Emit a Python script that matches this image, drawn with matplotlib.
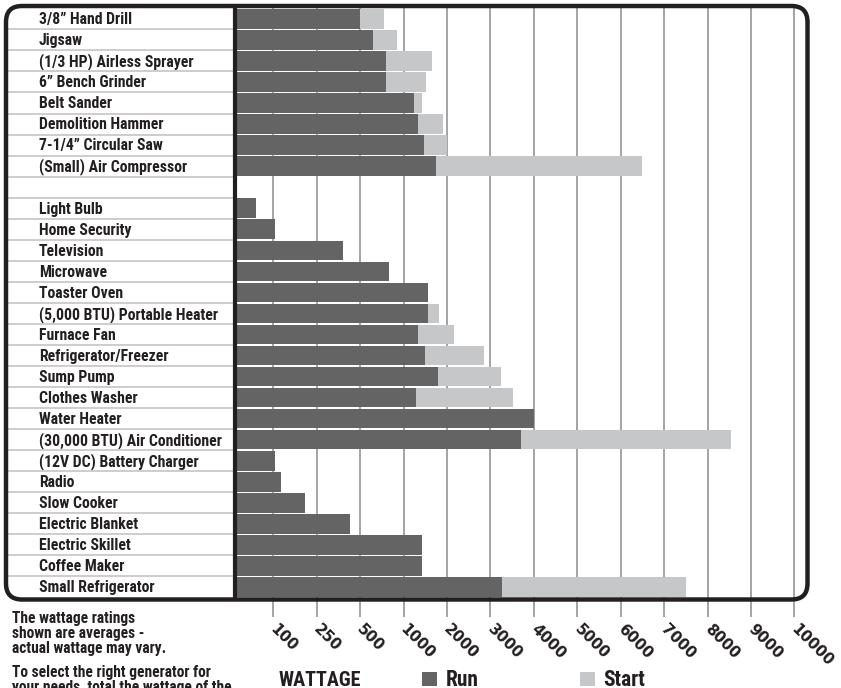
import numpy as np
import matplotlib
matplotlib.use("Agg")
import matplotlib.pyplot as plt
from matplotlib.patches import FancyBboxPatch, Rectangle
from matplotlib.lines import Line2D
from matplotlib.transforms import blended_transform_factory, offset_copy

# ---------------- data ----------------
categories = [
    "3/8\u201d Hand Drill", "Jigsaw", "(1/3 HP) Airless Sprayer", "6\u201d Bench Grinder",
    "Belt Sander", "Demolition Hammer", "7-1/4\u201d Circular Saw", "(Small) Air Compressor",
    "",
    "Light Bulb", "Home Security", "Television", "Microwave", "Toaster Oven",
    "(5,000 BTU) Portable Heater", "Furnace Fan", "Refrigerator/Freezer", "Sump Pump",
    "Clothes Washer", "Water Heater", "(30,000 BTU) Air Conditioner",
    "(12V DC) Battery Charger", "Radio", "Slow Cooker", "Electric Blanket",
    "Electric Skillet", "Coffee Maker", "Small Refrigerator",
]
run_watts = [500, 650, 800, 800, 1230, 1330, 1470, 1750,
             0,
             60, 105, 400, 830, 1560, 1560, 1330, 1490, 1790, 1280, 4000, 3700,
             105, 125, 210, 440, 1420, 1420, 3260]
start_watts = [780, 920, 1650, 1510, 1420, 1900, 2000, 6500,
               0,
               0, 0, 0, 0, 0, 1810, 2160, 2850, 3240, 3530, 0, 8550,
               0, 0, 0, 0, 0, 0, 7500]
scale_values = [0, 100, 250, 500, 1000, 2000, 3000, 4000, 5000, 6000, 7000, 8000, 9000, 10000, 11000]
tick_values = [100, 250, 500, 1000, 2000, 3000, 4000, 5000, 6000, 7000, 8000, 9000, 10000]
tick_labels = ["100", "250", "500", "1000", "2000", "3000", "4000", "5000",
               "6000", "7000", "8000", "9000", "10000"]
legend_title = "WATTAGE"
series_names = ["Run", "Start"]
note_lines_1 = "The wattage ratings\nshown are averages -\nactual wattage may vary."
note_lines_2 = "To select the right generator for\nyour needs, total the wattage of the"

RUN_C = "#646464"
START_C = "#c6c7c8"
GRID_C = "#a4a4a4"
INK = "#231f20"
SEP_C = "#c9c9c9"
NARROW = ["Roboto Condensed", "Archivo Narrow", "Fira Sans Condensed", "Liberation Sans", "DejaVu Sans"]
ROUND = ["M PLUS Rounded 1c", "DejaVu Sans"]

W, H = 841, 688
fig = plt.figure(figsize=(W / 100, H / 100), dpi=100)
fig.patch.set_facecolor("white")

def fx(px):
    return px / W

def fy(py):
    return 1 - py / H

ax_left, ax_right, ax_top, ax_bot = 235, 807.5, 8.3, 597.5
ax = fig.add_axes([fx(ax_left), fy(ax_bot), fx(ax_right - ax_left), (ax_bot - ax_top) / H])

idx = np.arange(len(scale_values), dtype=float)
sv = np.array(scale_values, dtype=float)

def fwd(v):
    return np.interp(v, sv, idx)

def inv(i):
    return np.interp(i, idx, sv)

ax.set_xscale("function", functions=(fwd, inv))

step = 43.42
x0_px = 229.9
ax.set_xlim(inv((ax_left - x0_px) / step), inv((ax_right - x0_px) / step))

n = len(categories)
ypos = np.arange(n)
ax.set_ylim(n - 0.5, -0.5)

start_arr = np.array(start_watts, dtype=float)
run_arr = np.array(run_watts, dtype=float)
has_start = start_arr > run_arr
ax.barh(ypos[has_start], start_arr[has_start], height=0.93, color=START_C, zorder=2)
ax.barh(ypos, run_arr, height=0.93, color=RUN_C, zorder=3)

ax.set_xticks(tick_values)
ax.set_xticklabels([])
ax.grid(axis="x", color=GRID_C, lw=1.4)
ax.grid(axis="y", visible=False)
ax.set_axisbelow(True)
ax.tick_params(axis="x", length=14, width=1.4, color=GRID_C, direction="out", labelbottom=False)
ax.tick_params(axis="y", left=False, labelleft=False)
ax.xaxis.set_minor_locator(matplotlib.ticker.NullLocator())
for s in ["top", "right", "bottom", "left"]:
    ax.spines[s].set_visible(False)

tl_trans = offset_copy(ax.get_xaxis_transform(), fig=fig, x=-6, y=-24, units="dots")
for v, lab in zip(tick_values, tick_labels):
    ax.text(v, 0, lab, transform=tl_trans, rotation=-45, ha="left", va="top",
            rotation_mode="default", fontsize=10.8, fontweight="bold",
            family=ROUND, color=INK, clip_on=False)

lab_trans = blended_transform_factory(fig.transFigure, ax.transData)
for y, c in zip(ypos, categories):
    if c:
        ax.text(fx(39), y + 0.04, c, transform=lab_trans, ha="left", va="center",
                fontsize=11.3, fontweight="bold", family=NARROW, color=INK, clip_on=False)

for y in ypos[:-1]:
    fig.add_artist(Line2D([fx(8), fx(232)], [y + 0.5, y + 0.5], transform=lab_trans,
                          color=SEP_C, lw=1.3, zorder=1))

fig.add_artist(Line2D([fx(235), fx(235)], [fy(5), fy(600)], transform=fig.transFigure,
                      color=INK, lw=3.0, zorder=5, solid_capstyle="butt"))

fr = FancyBboxPatch((6 / 100, (H - 599.5) / 100), (807.5 - 6) / 100, (599.5 - 6) / 100,
                    boxstyle="round,pad=0,rounding_size=0.16",
                    transform=fig.dpi_scale_trans, facecolor="none",
                    edgecolor=INK, lw=3.2, zorder=6)
fig.add_artist(fr)

fig.text(fx(12), fy(611), note_lines_1, ha="left", va="top", fontsize=11.2,
         fontweight="bold", family=NARROW, color=INK, linespacing=1.02)
fig.text(fx(12), fy(665), note_lines_2, ha="left", va="top", fontsize=11.2,
         fontweight="bold", family=NARROW, color=INK, linespacing=1.02)

fig.text(fx(279), fy(685.5), legend_title, ha="left", va="baseline", fontsize=14.5,
         fontweight="bold", family=NARROW, color=INK)
for (sx, tx), name, col in zip([(422, 446), (580, 603)], series_names, [RUN_C, START_C]):
    fig.add_artist(Rectangle((sx / 100, (H - 686) / 100), 15 / 100, 14 / 100,
                             transform=fig.dpi_scale_trans, facecolor=col, edgecolor="none"))
    fig.text(fx(tx), fy(685.5), name, ha="left", va="baseline", fontsize=15.5,
             fontweight="bold", family=NARROW, color=INK)

fig.savefig("out.png", dpi=100, facecolor="white")
